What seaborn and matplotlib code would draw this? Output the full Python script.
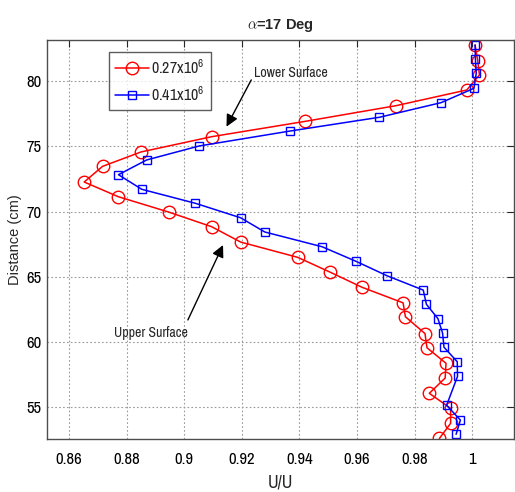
import matplotlib
matplotlib.use("Agg")
import matplotlib.pyplot as plt
from matplotlib import font_manager as fm
import seaborn as sns
import pandas as pd

# ---- data ----
red_u = [1.0010, 1.0019, 1.0025, 0.9981, 0.9736, 0.9421, 0.9095, 0.8850, 0.8717,
         0.8653, 0.8772, 0.8946, 0.9095, 0.9196, 0.9394, 0.9507, 0.9618, 0.9760,
         0.9768, 0.9836, 0.9843, 0.9909, 0.9906, 0.9851, 0.9925, 0.9925, 0.9886]
red_d = [82.76, 81.56, 80.46, 79.31, 78.11, 76.91, 75.73, 74.56, 73.46,
         72.26, 71.13, 69.96, 68.84, 67.66, 66.49, 65.35, 64.19, 63.00,
         61.94, 60.65, 59.56, 58.37, 57.24, 56.07, 54.92, 53.77, 52.61]
blue_u = [1.0010, 1.0011, 1.0014, 1.0006, 0.9892, 0.9678, 0.9369, 0.9052, 0.8870,
          0.8772, 0.8853, 0.9039, 0.9196, 0.9280, 0.9479, 0.9597, 0.9704, 0.9830,
          0.9841, 0.9881, 0.9897, 0.9902, 0.9948, 0.9949, 0.9911, 0.9959, 0.9944]
blue_d = [82.76, 81.66, 80.59, 79.44, 78.34, 77.22, 76.17, 75.02, 73.95,
          72.82, 71.70, 70.63, 69.52, 68.43, 67.30, 66.18, 65.08, 63.98,
          62.89, 61.79, 60.69, 59.60, 58.49, 57.37, 55.15, 54.02, 52.93]
series_labels = ["0.27x10$^{6}$", "0.41x10$^{6}$"]
x_ticks = [0.86, 0.88, 0.90, 0.92, 0.94, 0.96, 0.98, 1.00]
x_ticklabels = ["0.86", "0.88", "0.9", "0.92", "0.94", "0.96", "0.98", "1"]
y_ticks = [55, 60, 65, 70, 75, 80]

sns.set_style("white")

# pick a condensed family if one is installed
names = sorted({f.name for f in fm.fontManager.ttflist})
cond = [n for n in names if ("Narrow" in n or "Condensed" in n)]
cond_family = cond[0] if cond else None
fam = ([cond_family] if cond_family else []) + ["Liberation Sans", "DejaVu Sans"]
plt.rcParams["font.family"] = fam
scale = 1.0 if cond_family else 0.82

plt.rcParams["mathtext.fontset"] = "custom"
plt.rcParams["mathtext.rm"] = fam[0]
plt.rcParams["mathtext.it"] = fam[0] + ":italic"
plt.rcParams["mathtext.bf"] = fam[0] + ":bold"

fig = plt.figure(figsize=(5.15, 4.92), dpi=100)
ax = fig.add_axes([47/515, 53/492, 467/515, 399/492])

df_r = pd.DataFrame({"u": red_u, "d": red_d})
df_b = pd.DataFrame({"u": blue_u, "d": blue_d})

sns.lineplot(data=df_r, x="u", y="d", sort=False, estimator=None, ax=ax,
             color="#ff0000", lw=1.1, marker="o", markersize=9,
             markerfacecolor="none", markeredgecolor="#ff0000", markeredgewidth=1.0,
             label=series_labels[0])
sns.lineplot(data=df_b, x="u", y="d", sort=False, estimator=None, ax=ax,
             color="#0000ff", lw=1.1, marker="s", markersize=6,
             markerfacecolor="none", markeredgecolor="#0000ff", markeredgewidth=1.0,
             label=series_labels[1])

ax.set_xlim(0.8524, 1.0145)
ax.set_ylim(52.57, 83.14)
ax.set_xticks(x_ticks)
ax.set_xticklabels(x_ticklabels)
ax.set_yticks(y_ticks)
ax.tick_params(direction="in", length=5, width=0.8, top=True, right=True,
               labelsize=12 * scale, colors="#262626")
ax.tick_params(axis="x", pad=9)
ax.tick_params(axis="y", pad=4)
for lab in ax.get_xticklabels() + ax.get_yticklabels():
    lab.set_color("black")
ax.grid(True, linestyle=(0, (1.5, 2)), color="#9a9a9a", lw=0.8)
for s in ax.spines.values():
    s.set_color("#4d4d4d")
    s.set_linewidth(1.0)

ax.set_xlabel("U/U", fontsize=13 * scale, labelpad=6)
ax.set_ylabel("Distance (cm)", fontsize=10.5, family=["Liberation Sans", "DejaVu Sans"], labelpad=3)
ax.set_title(r"$\alpha$=17 Deg", fontsize=10.5, fontweight="bold",
             family=["Liberation Sans", "DejaVu Sans"], pad=8)

leg = ax.legend(loc="upper left", bbox_to_anchor=(62/467, 1 - 12/399), fontsize=11.5 * scale,
                frameon=True, fancybox=False, edgecolor="#333333", borderpad=0.4,
                handlelength=2.1, handletextpad=0.15, labelspacing=0.5,
                borderaxespad=0)
leg.get_frame().set_linewidth(1.0)

arrow = dict(arrowstyle="-|>", color="black", lw=1.0, mutation_scale=18,
             shrinkA=0, shrinkB=0)
ax.text(0.937, 80.61, "Lower Surface", fontsize=10 * scale, ha="center", va="center")
ax.annotate("", xy=(0.9147, 76.5), xytext=(0.9233, 80.08), arrowprops=arrow)
ax.text(0.8884, 60.71, "Upper Surface", fontsize=10 * scale, ha="center", va="center")
ax.annotate("", xy=(0.9135, 67.43), xytext=(0.9013, 61.69), arrowprops=arrow)

fig.savefig("out.png", dpi=100)
